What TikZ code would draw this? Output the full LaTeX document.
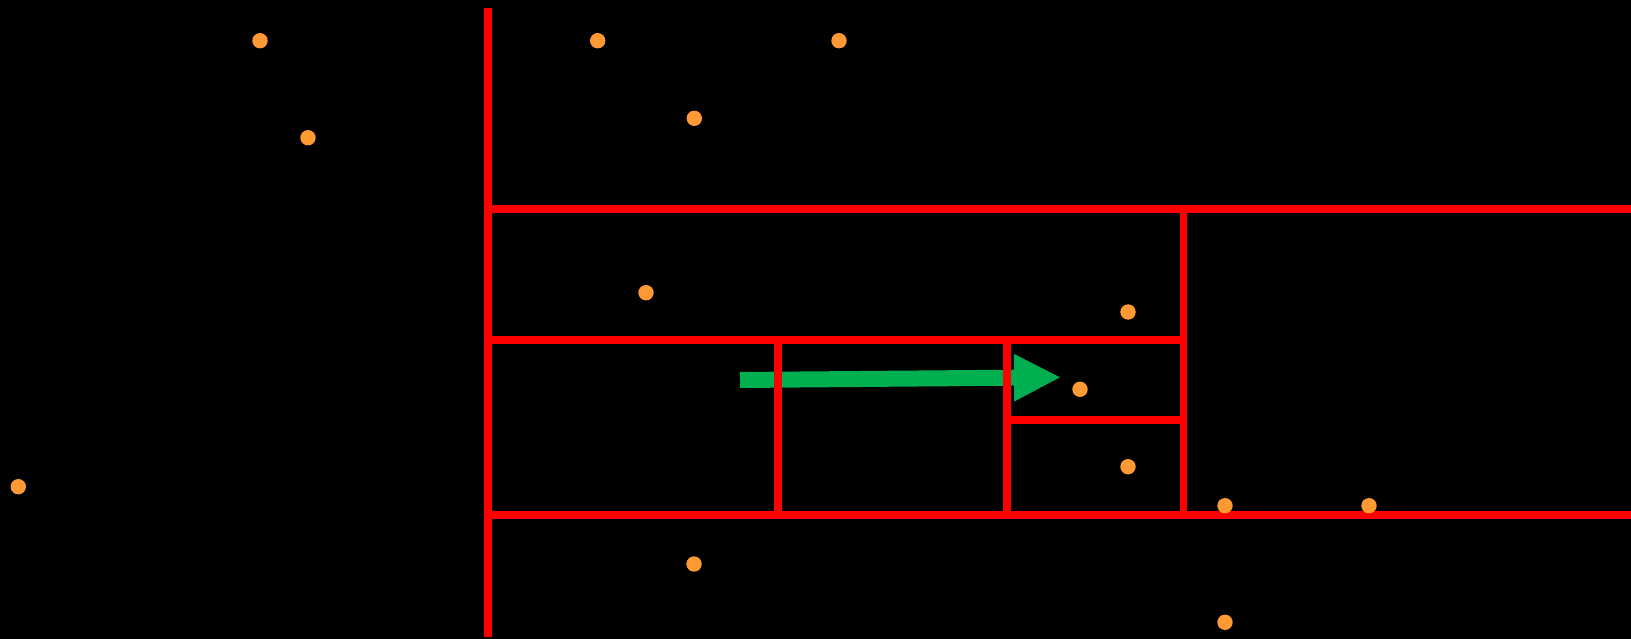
\documentclass[tikz,border=0pt]{standalone}
\usetikzlibrary{arrows.meta}
\definecolor{wallred}{RGB}{255,0,0}
\definecolor{dotorange}{RGB}{255,153,51}
\definecolor{arrgreen}{RGB}{0,176,80}
\begin{document}
\begin{tikzpicture}[x=1pt,y=-1pt,
  wall/.style={draw=wallred,line width=7.7pt,line cap=butt},
  pt/.style={circle,fill=dotorange,inner sep=0pt,minimum size=15.4pt},
  movearrow/.style={draw=arrgreen,line width=16pt,-{Triangle[length=47pt,width=44pt,fill=arrgreen]}}]
\useasboundingbox (0,0) rectangle (1631,639);
\fill[black] (0,0) rectangle (1631,639);
% green arrow (under the walls)
\coordinate (aS) at (740,380);
\coordinate (aE) at (1061,377.3);
\draw[movearrow] (aS) -- (aE);
% corners of the walls
\coordinate (vTop) at (488,7.7);
\coordinate (vBot) at (488,636.7);
\coordinate (h1L) at (488,209);
\coordinate (h1R) at (1631,209);
\coordinate (h2L) at (488,340.3);
\coordinate (h2R) at (1183.5,340.3);
\coordinate (h3L) at (488,515);
\coordinate (h3R) at (1631,515);
\coordinate (v2T) at (778,340.3);
\coordinate (v2B) at (778,515);
\coordinate (v3T) at (1007,340.3);
\coordinate (v3B) at (1007,515);
\coordinate (h4L) at (1007,420);
\coordinate (h4R) at (1183.5,420);
\coordinate (v4T) at (1183.5,209);
\coordinate (v4B) at (1183.5,515);
\draw[wall] (vTop) -- (vBot);
\draw[wall] (h1L) -- (h1R);
\draw[wall] (h2L) -- (h2R);
\draw[wall] (h3L) -- (h3R);
\draw[wall] (v2T) -- (v2B);
\draw[wall] (v3T) -- (v3B);
\draw[wall] (h4L) -- (h4R);
\draw[wall] (v4T) -- (v4B);
% points
\node[pt] (p1) at (260,40.7) {};
\node[pt] (p2) at (308,137.7) {};
\node[pt] (p3) at (597.7,40.7) {};
\node[pt] (p4) at (839,40.7) {};
\node[pt] (p5) at (694.3,118.3) {};
\node[pt] (p6) at (646,292.7) {};
\node[pt] (p7) at (1128,312) {};
\node[pt] (p8) at (1080,389.3) {};
\node[pt] (p9) at (1128,466.7) {};
\node[pt] (p10) at (18.3,486.7) {};
\node[pt] (p11) at (1225,505.7) {};
\node[pt] (p12) at (1369,505.7) {};
\node[pt] (p13) at (694,564) {};
\node[pt] (p14) at (1225,622.3) {};
\end{tikzpicture}
\end{document}
